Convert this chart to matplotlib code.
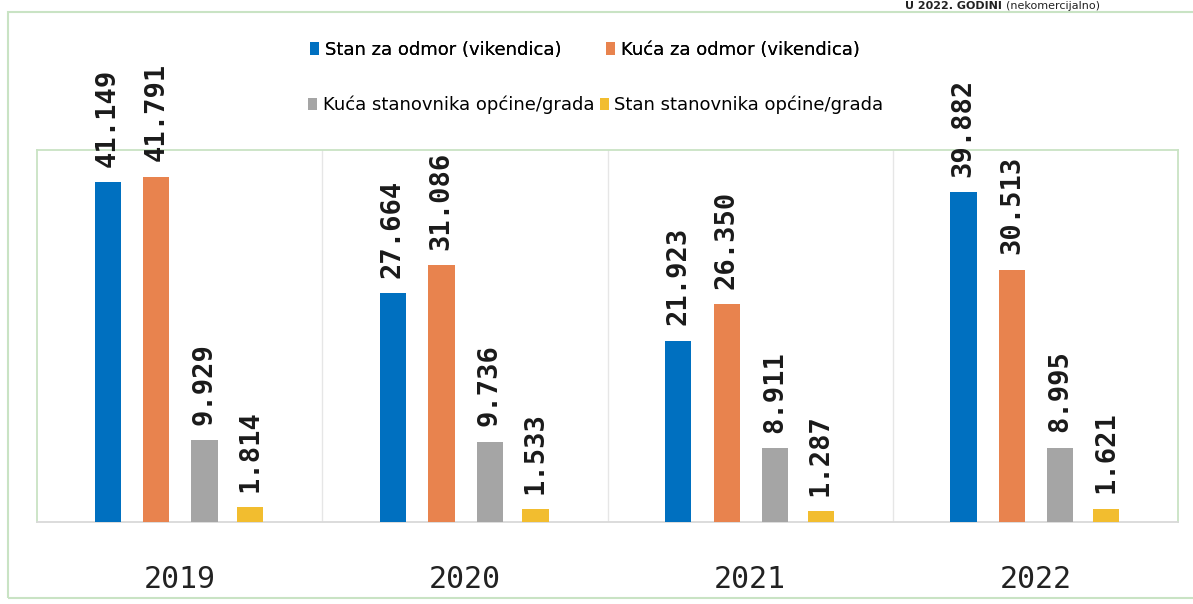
import matplotlib.pyplot as plt
from matplotlib.patches import Rectangle, Patch

# --- Data ---
YEARS = ["2019", "2020", "2021", "2022"]
SERIES = [
    "Stan za odmor (vikendica)",
    "Kuća za odmor (vikendica)",
    "Kuća stanovnika općine/grada",
    "Stan stanovnika općine/grada",
]
stan_odmor = [41.149, 27.664, 21.923, 39.882]
kuca_odmor = [41.791, 31.086, 26.350, 30.513]
kuca_stanovnika = [9.929, 9.736, 8.911, 8.995]
stan_stanovnika = [1.814, 1.533, 1.287, 1.621]
LABELS = [
    ["41.149", "27.664", "21.923", "39.882"],
    ["41.791", "31.086", "26.350", "30.513"],
    ["9.929", "9.736", "8.911", "8.995"],
    ["1.814", "1.533", "1.287", "1.621"],
]
COLORS = ["#0070C0", "#E8834E", "#A5A5A5", "#F2BD2F"]

values = [stan_odmor, kuca_odmor, kuca_stanovnika, stan_stanovnika]

# --- Figure ---
fig = plt.figure(figsize=(11.93, 6.04), dpi=100)
fig.patch.set_facecolor("white")

# outer frame (light green)
fig.patches.append(Rectangle((8 / 1193, 6 / 604), 1.2, 586 / 604,
                             transform=fig.transFigure, fill=False,
                             edgecolor="#c9e3c4", linewidth=1.5))

ax = fig.add_axes([37 / 1193, 82 / 604, 1141 / 1193, 372 / 604])
ax.set_xlim(-0.5, 3.5)
ax.set_ylim(0, 45)

width = 0.092
offsets = [-0.252, -0.082, 0.087, 0.248]
for i in range(4):
    xs = [j + offsets[i] for j in range(len(YEARS))]
    bars = ax.bar(xs, values[i], width=width, color=COLORS[i], zorder=3)
    for b, lab in zip(bars, LABELS[i]):
        ax.annotate(lab, (b.get_x() + b.get_width() / 2, b.get_height()),
                    xytext=(0, 11), textcoords="offset points",
                    rotation=90, ha="center", va="bottom",
                    fontsize=19.5, fontweight="bold", family="DejaVu Sans Mono",
                    color="#1a1a1a", annotation_clip=False)

for x in [0.5, 1.5, 2.5]:
    ax.axvline(x, color="#e6e6e6", linewidth=1, zorder=1)

for s in ["top", "left", "right"]:
    ax.spines[s].set_color("#c9e3c4")
    ax.spines[s].set_linewidth(1.3)
ax.spines["bottom"].set_color("#d9d9d9")
ax.spines["bottom"].set_linewidth(1.3)

ax.set_yticks([])
ax.set_xticks(range(len(YEARS)))
ax.set_xticklabels(YEARS, fontsize=21.5, family="DejaVu Sans Mono", color="#222222")
ax.tick_params(axis="x", length=0, pad=31)

# --- Legend (two separate rows, like the original) ---
leg_font = {"family": ["Liberation Sans Narrow", "DejaVu Sans"], "size": 13}
h = [Patch(facecolor=c) for c in COLORS]
leg1 = fig.legend(h[:2], SERIES[:2], loc="center left",
                  bbox_to_anchor=(294 / 1193, 1 - 50 / 604), ncol=2,
                  frameon=False, prop=leg_font, handlelength=0.5,
                  handleheight=0.7, handletextpad=0.3, columnspacing=2.5)
fig.add_artist(leg1)
fig.legend(h[2:], SERIES[2:], loc="center left",
           bbox_to_anchor=(292 / 1193, 1 - 105 / 604), ncol=2,
           frameon=False, prop=leg_font, handlelength=0.5,
           handleheight=0.7, handletextpad=0.3, columnspacing=0.3)

# heading at the top of the scan (cropped in the original)
fig.text(1002 / 1193, 1 - 1 / 604, "U 2022. GODINI", ha="right", va="top",
         fontsize=8, fontweight="bold", color="#222222")
fig.text(1006 / 1193, 1 - 1 / 604, "(nekomercijalno)", ha="left", va="top",
         fontsize=8, color="#222222")

fig.savefig("out.png", dpi=100)
